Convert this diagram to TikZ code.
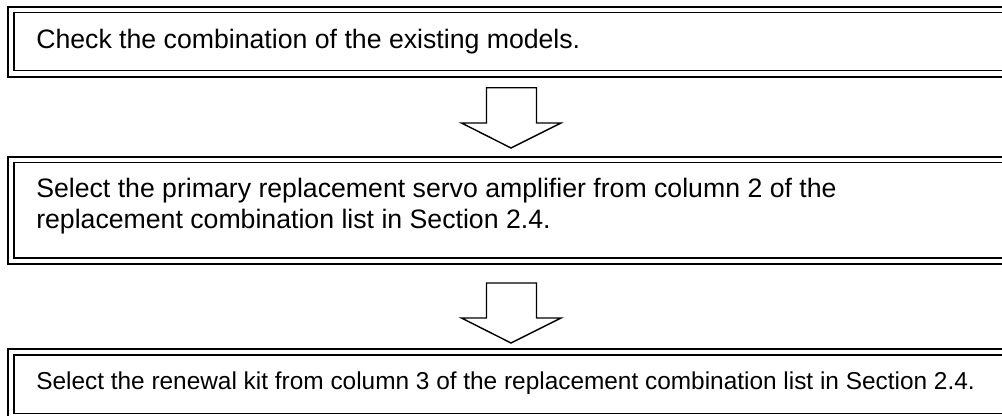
\documentclass[tikz,border=0pt]{standalone}
\usepackage{fontspec}
\setmainfont{Liberation Sans}
\begin{document}
\begin{tikzpicture}[x=0.75pt,y=-0.75pt,
  outerline/.style={draw=black,line width=1.25pt},
  innerline/.style={draw=black,line width=1.05pt},
  blockarrow/.style={draw=black,line width=1.05pt,fill=white,line join=miter},
  bigtext/.style={anchor=base west,inner sep=0pt,font=\fontsize{20}{23}\selectfont,align=left},
  smalltext/.style={anchor=base west,inner sep=0pt,font=\fontsize{18.3}{22}\selectfont}]
\useasboundingbox (0,0) rectangle (1002,415);
\clip (0,0) rectangle (1002,415);
% box 1
\coordinate (b1o1) at (8,7);    \coordinate (b1o2) at (1030,77);
\coordinate (b1i1) at (14,12.7); \coordinate (b1i2) at (1024,70.7);
\draw[outerline] (b1o1) rectangle (b1o2);
\draw[innerline] (b1i1) rectangle (b1i2);
\node[bigtext] (t1) at (36,48.5) {Check the combination of the existing models.};
% box 2
\coordinate (b2o1) at (8,157);    \coordinate (b2o2) at (1030,264);
\coordinate (b2i1) at (14,162.5); \coordinate (b2i2) at (1024,258);
\draw[outerline] (b2o1) rectangle (b2o2);
\draw[innerline] (b2i1) rectangle (b2i2);
\node[bigtext] (t2a) at (36,197.5) {Select the primary replacement servo amplifier from column 2 of the};
\node[bigtext] (t2b) at (36,228.5) {replacement combination list in Section 2.4.};
% box 3
\coordinate (b3o1) at (8,349);    \coordinate (b3o2) at (1030,420);
\coordinate (b3i1) at (14,355); \coordinate (b3i2) at (1024,413.5);
\draw[outerline] (b3o1) rectangle (b3o2);
\draw[innerline] (b3i1) rectangle (b3i2);
\node[smalltext] (t3) at (36,389) {Select the renewal kit from column 3 of the replacement combination list in Section 2.4.};
% arrow 1
\draw[blockarrow] (486.5,87.7) -- (536.5,87.7) -- (536.5,123) -- (561,123) -- (511,148) -- (461.5,123) -- (486.5,123) -- cycle;
% arrow 2
\draw[blockarrow] (486.5,283) -- (536.5,283) -- (536.5,318) -- (561,318) -- (511,343) -- (461.5,318) -- (486.5,318) -- cycle;
\end{tikzpicture}
\end{document}
